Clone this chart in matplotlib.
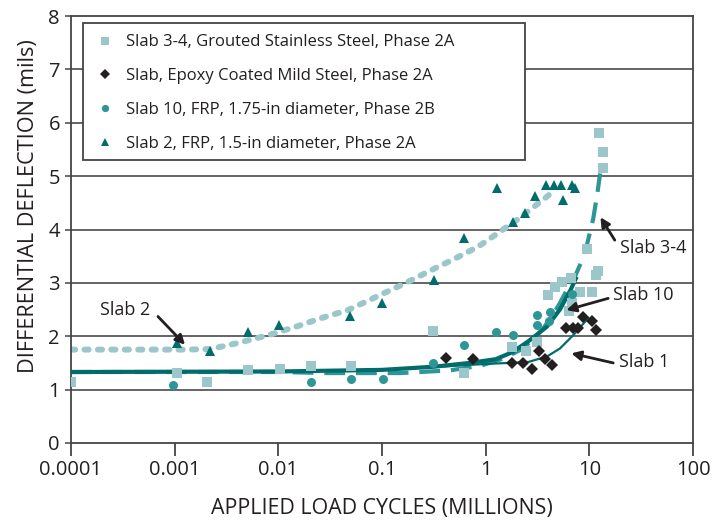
import numpy as np
import matplotlib
matplotlib.use("Agg")
import matplotlib.pyplot as plt
from matplotlib.ticker import FixedLocator, NullLocator
from matplotlib.patches import Rectangle

plt.rcParams['font.family'] = ['Open Sans', 'DejaVu Sans']

# 数据
# Slab 3-4, 不锈钢
s34_x = [0.0001, 0.00105, 0.00205, 0.0051, 0.0103, 0.0205, 0.0497, 0.31, 0.62,
         1.78, 2.45, 3.1, 4.0, 4.7, 5.4, 6.7, 6.4, 6.8, 8.1, 10.5, 9.4, 11.5, 12.2,
         12.3, 13.6, 13.6]
s34_y = [1.14, 1.31, 1.14, 1.37, 1.38, 1.45, 1.45, 2.09, 1.32,
         1.80, 1.72, 1.90, 2.78, 2.93, 3.02, 3.09, 2.47, 2.62, 2.82, 2.82, 3.63, 3.15, 3.23,
         5.80, 5.45, 5.15]

# Slab 环氧涂层钢
ep_x = [0.41, 0.76, 1.78, 2.3, 2.8, 3.3, 3.7, 4.4, 5.9, 7.0, 7.7, 8.7, 10.6, 11.5]
ep_y = [1.60, 1.58, 1.50, 1.50, 1.39, 1.72, 1.58, 1.47, 2.16, 2.16, 2.16, 2.37, 2.29, 2.12]

# Slab 10 FRP 1.75
s10_x = [0.00097, 0.0205, 0.0497, 0.103, 0.31, 0.62, 1.25, 1.85, 3.1, 3.1, 4.1, 4.2, 6.8]
s10_y = [1.08, 1.14, 1.20, 1.20, 1.49, 1.84, 2.08, 2.02, 2.22, 2.40, 2.28, 2.46, 2.80]

# Slab 2 FRP 1.5
s2_x = [0.00105, 0.0022, 0.0051, 0.0101, 0.049, 0.10, 0.316, 0.62, 1.30, 1.85,
        2.40, 3.0, 3.80, 4.55, 5.38, 6.74, 7.3, 5.6]
s2_y = [1.87, 1.73, 2.08, 2.22, 2.38, 2.63, 3.05, 3.84, 4.78, 4.14,
        4.31, 4.63, 4.84, 4.84, 4.84, 4.84, 4.77, 4.55]

# 趋势线（读取的曲线点）
fit2_x = [0.0001, 0.0006, 0.0013, 0.0022, 0.004, 0.008, 0.016, 0.025, 0.047, 0.1,
          0.17, 0.3, 0.5, 0.85, 1.4, 2.0, 2.9, 3.7, 4.7]
fit2_y = [1.75, 1.75, 1.75, 1.76, 1.87, 2.02, 2.20, 2.33, 2.49, 2.79,
          3.00, 3.24, 3.45, 3.68, 3.97, 4.18, 4.42, 4.58, 4.75]

fit34_x = [0.0001, 0.01, 0.03, 0.15, 0.45, 0.9, 1.47, 2.14, 2.85, 3.6, 4.5, 5.2,
           6.0, 7.2, 8.4, 9.4, 10.9, 12.0, 12.7]
fit34_y = [1.33, 1.33, 1.31, 1.31, 1.36, 1.45, 1.58, 1.74, 1.93, 2.15, 2.42, 2.62,
           2.85, 3.10, 3.40, 3.68, 4.20, 4.70, 5.05]

fit10_x = [0.0001, 0.01, 0.1, 0.32, 0.7, 1.25, 1.8, 2.6, 3.9, 5.2, 6.6, 7.4]
fit10_y = [1.33, 1.34, 1.37, 1.43, 1.50, 1.57, 1.70, 1.91, 2.18, 2.50, 2.87, 3.08]

fit1_x = [0.1, 0.3, 0.8, 1.25, 1.7, 2.6, 3.9, 5.2, 7.0, 8.8, 9.8]
fit1_y = [1.37, 1.42, 1.47, 1.49, 1.50, 1.52, 1.62, 1.77, 2.02, 2.24, 2.34]

xticks = [0.0001, 0.001, 0.01, 0.1, 1, 10, 100]
xtick_labels = ["0.0001", "0.001", "0.01", "0.1", "1", "10", "100"]
yticks = [0, 1, 2, 3, 4, 5, 6, 7, 8]

labels = ["Slab 3-4, Grouted Stainless Steel, Phase 2A",
          "Slab, Epoxy Coated Mild Steel, Phase 2A",
          "Slab 10, FRP, 1.75-in diameter, Phase 2B",
          "Slab 2, FRP, 1.5-in diameter, Phase 2A"]

# 颜色
c_light = "#9cc7ca"
c_mid = "#2f9698"
c_dark = "#006c6c"
c_black = "#231f20"
c_frame = "#444444"

fig = plt.figure(figsize=(7.12, 5.2), dpi=100)
ax = fig.add_axes([71/712, 77/520, 622/712, 427/520])

# 网格线
for v in yticks[1:-1]:
    ax.axhline(v, color="#3a3a3a", lw=1.1, zorder=1)

# 趋势线
ax.plot(fit2_x, fit2_y, color=c_light, lw=4.3, linestyle=(0, (0.7, 1.55)),
        dash_capstyle="round", zorder=2)
ax.plot(fit34_x, fit34_y, color=c_mid, lw=3.0, linestyle=(0, (5, 2.6)),
        dash_capstyle="butt", zorder=2)
ax.plot(fit1_x, fit1_y, color=c_dark, lw=1.6, zorder=3)
ax.plot(fit10_x, fit10_y, color=c_dark, lw=3.0, zorder=3)

# 散点
h1, = ax.plot(s34_x, s34_y, 's', color=c_light, ms=7.5, mew=0, zorder=4, label=labels[0])
h2, = ax.plot(ep_x, ep_y, 'D', color=c_black, ms=6.5, mew=0, zorder=4, label=labels[1])
h3, = ax.plot(s10_x, s10_y, 'o', color=c_mid, ms=6.5, mew=0, zorder=4, label=labels[2])
h4, = ax.plot(s2_x, s2_y, '^', color=c_dark, ms=7.5, mew=0, zorder=4, label=labels[3])

ax.set_xscale("log")
ax.set_xlim(0.0001, 100)
ax.set_ylim(0, 8)
ax.xaxis.set_major_locator(FixedLocator(xticks))
ax.xaxis.set_minor_locator(NullLocator())
ax.set_xticklabels(xtick_labels)
ax.set_yticks(yticks)

for s in ax.spines.values():
    s.set_color(c_frame)
    s.set_linewidth(1.3)

ax.tick_params(axis="x", direction="out", length=9, width=1.3, color=c_frame,
               labelsize=14.5, labelcolor=c_black, pad=3)
ax.tick_params(axis="y", direction="out", length=4, width=1.1, color=c_frame,
               labelsize=14.5, labelcolor=c_black, pad=4)

ax.set_xlabel("APPLIED LOAD CYCLES (MILLIONS)", fontsize=15.4, color=c_black, labelpad=13)
ax.set_ylabel("DIFFERENTIAL DEFLECTION (mils)", fontsize=15.6, color=c_black)
ax.yaxis.set_label_coords(-0.052, 0.555)

# 图例（外框单独画）
leg = ax.legend(handles=[h1, h2, h3, h4], loc="upper left",
                bbox_to_anchor=(0.022, 0.984), fontsize=12, frameon=False,
                handlelength=1.0, handletextpad=0.75, labelspacing=1.07,
                borderpad=0.7, borderaxespad=0, markerscale=0.8)
for t in leg.get_texts():
    t.set_color(c_black)
leg.set_zorder(7)
ax.add_patch(Rectangle((0.0193, 0.663), 0.7107, 0.3206, transform=ax.transAxes,
                       facecolor="white", edgecolor=c_frame, lw=1.3, zorder=6))

# 注释
arrow_kw = dict(arrowstyle="-|>", color=c_black, lw=2, mutation_scale=14,
                shrinkA=0, shrinkB=0)
ann_text = ["Slab 2", "Slab 3-4", "Slab 10", "Slab 1"]
ann_text_xy = [(0.00033, 2.49), (19.7, 3.65), (16.9, 2.77), (19.3, 1.52)]
ann_ha = ["center", "left", "left", "left"]
ann_tail = [(0.00069, 2.37), (17.6, 3.80), (15.2, 2.71), (17.0, 1.50)]
ann_head = [(0.00126, 1.84), (12.8, 4.23), (6.0, 2.49), (6.7, 1.68)]
for txt, txy, ha, tail, head in zip(ann_text, ann_text_xy, ann_ha, ann_tail, ann_head):
    ax.text(txy[0], txy[1], txt, fontsize=13, color=c_black, ha=ha, va="center", zorder=6)
    ax.annotate("", xy=head, xytext=tail, arrowprops=arrow_kw, zorder=6)

fig.savefig("out.png", dpi=100)
